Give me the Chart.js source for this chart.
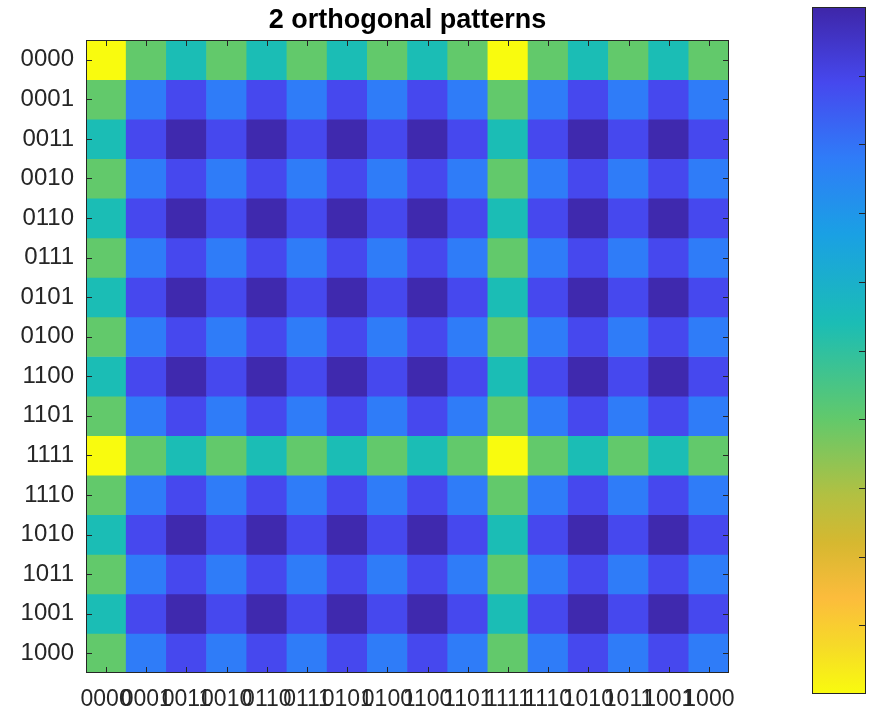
<!DOCTYPE html>
<html>
<head>
<meta charset="utf-8">
<title>2 orthogonal patterns</title>
<script src="https://cdn.jsdelivr.net/npm/chart.js@4.4.1/dist/chart.umd.min.js"></script>
<style>
    html, body { margin: 0; padding: 0; background: #ffffff; }
    #wrap { position: relative; width: 871px; height: 712px; }
    #heat { position: absolute; left: 0; top: 0; }
    #cbar { position: absolute; left: 812px; top: 7px; }
</style>
</head>
<body>
<div id="wrap">
    <canvas id="heat" width="871" height="712"></canvas>
    <canvas id="cbar" width="54" height="687"></canvas>
</div>
<script>
// ─── Data ────────────────────────────────────────────────────────────────
const titleText = '2 orthogonal patterns';

const xLabels = ['0000', '0001', '0011', '0010', '0110', '0111', '0101', '0100',
                 '1100', '1101', '1111', '1110', '1010', '1011', '1001', '1000'];
const yLabels = ['0000', '0001', '0011', '0010', '0110', '0111', '0101', '0100',
                 '1100', '1101', '1111', '1110', '1010', '1011', '1001', '1000'];

// cell values, one row per y label (0 = dark blue, 1 = yellow)
const values = [
    [1.00, 0.60, 0.46, 0.60, 0.46, 0.60, 0.46, 0.60, 0.46, 0.60, 1.00, 0.60, 0.46, 0.60, 0.46, 0.60],
    [0.60, 0.22, 0.11, 0.22, 0.11, 0.22, 0.11, 0.22, 0.11, 0.22, 0.60, 0.22, 0.11, 0.22, 0.11, 0.22],
    [0.46, 0.11, 0.01, 0.11, 0.01, 0.11, 0.01, 0.11, 0.01, 0.11, 0.46, 0.11, 0.01, 0.11, 0.01, 0.11],
    [0.60, 0.22, 0.11, 0.22, 0.11, 0.22, 0.11, 0.22, 0.11, 0.22, 0.60, 0.22, 0.11, 0.22, 0.11, 0.22],
    [0.46, 0.11, 0.01, 0.11, 0.01, 0.11, 0.01, 0.11, 0.01, 0.11, 0.46, 0.11, 0.01, 0.11, 0.01, 0.11],
    [0.60, 0.22, 0.11, 0.22, 0.11, 0.22, 0.11, 0.22, 0.11, 0.22, 0.60, 0.22, 0.11, 0.22, 0.11, 0.22],
    [0.46, 0.11, 0.01, 0.11, 0.01, 0.11, 0.01, 0.11, 0.01, 0.11, 0.46, 0.11, 0.01, 0.11, 0.01, 0.11],
    [0.60, 0.22, 0.11, 0.22, 0.11, 0.22, 0.11, 0.22, 0.11, 0.22, 0.60, 0.22, 0.11, 0.22, 0.11, 0.22],
    [0.46, 0.11, 0.01, 0.11, 0.01, 0.11, 0.01, 0.11, 0.01, 0.11, 0.46, 0.11, 0.01, 0.11, 0.01, 0.11],
    [0.60, 0.22, 0.11, 0.22, 0.11, 0.22, 0.11, 0.22, 0.11, 0.22, 0.60, 0.22, 0.11, 0.22, 0.11, 0.22],
    [1.00, 0.60, 0.46, 0.60, 0.46, 0.60, 0.46, 0.60, 0.46, 0.60, 1.00, 0.60, 0.46, 0.60, 0.46, 0.60],
    [0.60, 0.22, 0.11, 0.22, 0.11, 0.22, 0.11, 0.22, 0.11, 0.22, 0.60, 0.22, 0.11, 0.22, 0.11, 0.22],
    [0.46, 0.11, 0.01, 0.11, 0.01, 0.11, 0.01, 0.11, 0.01, 0.11, 0.46, 0.11, 0.01, 0.11, 0.01, 0.11],
    [0.60, 0.22, 0.11, 0.22, 0.11, 0.22, 0.11, 0.22, 0.11, 0.22, 0.60, 0.22, 0.11, 0.22, 0.11, 0.22],
    [0.46, 0.11, 0.01, 0.11, 0.01, 0.11, 0.01, 0.11, 0.01, 0.11, 0.46, 0.11, 0.01, 0.11, 0.01, 0.11],
    [0.60, 0.22, 0.11, 0.22, 0.11, 0.22, 0.11, 0.22, 0.11, 0.22, 0.60, 0.22, 0.11, 0.22, 0.11, 0.22]
];

// colorbar range and its (unlabelled) tick marks
const cbRange = [0, 1];
const cbTicks = [0.1, 0.2, 0.3, 0.4, 0.5, 0.6, 0.7, 0.8, 0.9];

// ─── Colormap (parula-like) ──────────────────────────────────────────────
const cmapStops = [
    [0.00, [62, 38, 168]],
    [0.11, [70, 72, 238]],
    [0.22, [47, 124, 248]],
    [0.33, [26, 160, 228]],
    [0.46, [27, 189, 181]],
    [0.60, [98, 201, 107]],
    [0.71, [178, 192, 66]],
    [0.78, [214, 184, 48]],
    [0.86, [252, 188, 60]],
    [0.93, [246, 218, 40]],
    [1.00, [249, 251, 14]]
];

function cmap(v) {
    for (let i = 1; i < cmapStops.length; i++) {
        const [p1, c1] = cmapStops[i];
        const [p0, c0] = cmapStops[i - 1];
        if (v <= p1) {
            const t = (v - p0) / (p1 - p0);
            const c = c0.map((ch, k) => Math.round(ch + (c1[k] - ch) * t));
            return `rgb(${c[0]},${c[1]},${c[2]})`;
        }
    }
    const last = cmapStops[cmapStops.length - 1][1];
    return `rgb(${last[0]},${last[1]},${last[2]})`;
}

const FONT = "'Liberation Sans', Arial, Helvetica, sans-serif";
const AXIS_COLOR = '#262626';

// ─── Heatmap ─────────────────────────────────────────────────────────────
// each row is a dataset of floating bars spanning [row, row + 1]
const rowDatasets = values.map((row, r) => ({
    label: yLabels[r],
    data: row.map(() => [r, r + 1]),
    backgroundColor: row.map(v => cmap(v)),
    borderWidth: 0,
    barPercentage: 1,
    categoryPercentage: 1,
    grouped: false
}));

// MATLAB-style box, inward ticks and title above the axes
const axesBox = {
    id: 'axesBox',
    afterDatasetsDraw(chart) {
        const { ctx, chartArea: a, scales: { x, y } } = chart;
        ctx.save();
        ctx.strokeStyle = AXIS_COLOR;
        ctx.lineWidth = 1;
        ctx.strokeRect(a.left + 0.5, a.top + 0.5, a.width - 1, a.height - 1);
        ctx.beginPath();
        xLabels.forEach((_, i) => {
            const px = Math.round(x.getPixelForValue(i)) + 0.5;
            ctx.moveTo(px, a.top); ctx.lineTo(px, a.top + 6);
            ctx.moveTo(px, a.bottom); ctx.lineTo(px, a.bottom - 6);
        });
        yLabels.forEach((_, i) => {
            const py = Math.round(y.getPixelForValue(i + 0.5)) + 0.5;
            ctx.moveTo(a.left, py); ctx.lineTo(a.left + 6, py);
            ctx.moveTo(a.right, py); ctx.lineTo(a.right - 6, py);
        });
        ctx.stroke();

        ctx.fillStyle = '#000000';
        ctx.font = `bold 27px ${FONT}`;
        ctx.textAlign = 'center';
        ctx.textBaseline = 'middle';
        ctx.fillText(titleText, (a.left + a.right) / 2, 21);
        ctx.restore();
    }
};

new Chart(document.getElementById('heat'), {
    type: 'bar',
    data: { labels: xLabels, datasets: rowDatasets },
    plugins: [axesBox],
    options: {
        responsive: false,
        animation: false,
        devicePixelRatio: 1,
        layout: { padding: { top: 40, right: 142, left: 0, bottom: 0 } },
        plugins: { legend: { display: false }, tooltip: { enabled: false }, title: { display: false } },
        scales: {
            x: {
                type: 'category',
                grid: { display: false, drawTicks: false },
                border: { display: false },
                ticks: {
                    autoSkip: false, maxRotation: 0, minRotation: 0,
                    padding: 13,
                    color: AXIS_COLOR,
                    font: { family: FONT, size: 23 }
                },
                afterFit(scale) { scale.height = 39; }
            },
            y: {
                type: 'linear',
                min: 0,
                max: 16,
                reverse: true,
                grid: { display: false, drawTicks: false },
                border: { display: false },
                afterBuildTicks(scale) {
                    scale.ticks = yLabels.map((_, i) => ({ value: i + 0.5 }));
                },
                ticks: {
                    autoSkip: false,
                    padding: 12,
                    color: AXIS_COLOR,
                    font: { family: FONT, size: 24 },
                    callback: (value, index) => yLabels[index]
                },
                afterFit(scale) { scale.width = 86; }
            }
        }
    }
});

// ─── Colorbar ────────────────────────────────────────────────────────────
const cbFrame = {
    id: 'cbFrame',
    afterDatasetsDraw(chart) {
        const { ctx, chartArea: a, scales: { y } } = chart;
        ctx.save();
        ctx.strokeStyle = AXIS_COLOR;
        ctx.lineWidth = 1;
        ctx.strokeRect(a.left + 0.5, a.top + 0.5, a.width - 1, a.height - 1);
        ctx.beginPath();
        cbTicks.forEach(t => {
            const py = Math.round(y.getPixelForValue(t)) + 0.5;
            ctx.moveTo(a.right, py); ctx.lineTo(a.right - 7, py);
        });
        ctx.stroke();
        ctx.restore();
    }
};

new Chart(document.getElementById('cbar'), {
    type: 'bar',
    data: {
        labels: ['colorbar'],
        datasets: [{
            data: [cbRange],
            borderWidth: 0,
            barPercentage: 1,
            categoryPercentage: 1,
            backgroundColor(context) {
                const { chart } = context;
                const y = chart.scales.y;
                if (!chart.chartArea || !y) return cmap(0.5);
                const g = chart.ctx.createLinearGradient(0, y.getPixelForValue(cbRange[0]), 0, y.getPixelForValue(cbRange[1]));
                cmapStops.forEach(([p]) => g.addColorStop(p, cmap(p)));
                return g;
            }
        }]
    },
    plugins: [cbFrame],
    options: {
        responsive: false,
        animation: false,
        devicePixelRatio: 1,
        layout: { padding: 0 },
        plugins: { legend: { display: false }, tooltip: { enabled: false } },
        scales: {
            x: { display: false },
            y: { display: false, min: cbRange[0], max: cbRange[1], reverse: true }
        }
    }
});
</script>
</body>
</html>
